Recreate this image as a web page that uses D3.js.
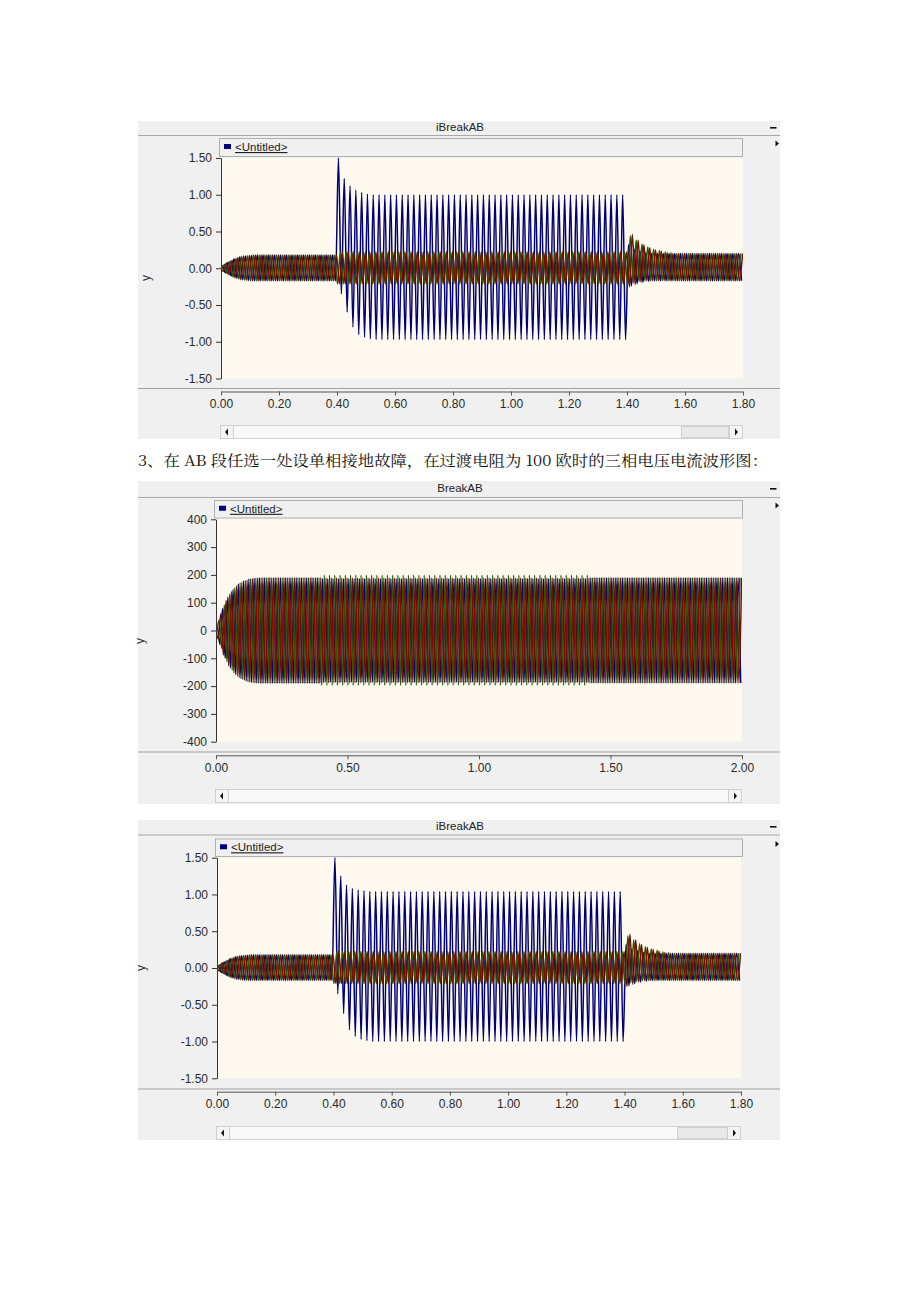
<!DOCTYPE html>
<html><head><meta charset="utf-8">
<script src="https://cdn.jsdelivr.net/npm/d3@7"></script>
<style>html,body{margin:0;padding:0;background:#fff;}svg{display:block;}</style>
</head><body>
<svg id="chart" width="920" height="1302"></svg>
<script>
// ---------- DATA (half-cycle peak values, one value per cycle) ----------
const caption = "3、在 AB 段任选一处设单相接地故障，在过渡电阻为 100 欧时的三相电压电流波形图：";
const legendLabel = "<Untitled>";
const titles = ["iBreakAB", "BreakAB", "iBreakAB"];
const curTicksY = [-1.5, -1, -0.5, 0, 0.5, 1, 1.5];
const curTicksX = [0, 0.2, 0.4, 0.6, 0.8, 1.0, 1.2, 1.4, 1.6, 1.8];
const volTicksY = [-400, -300, -200, -100, 0, 100, 200, 300, 400];
const volTicksX = [0, 0.5, 1.0, 1.5, 2.0];
const halfPeriod = 0.01;           // 50 Hz
const firstPeakTime = [0.005, 0.00167, 0.00833]; // phase A, B, C

// Panel 1 : iBreakAB (kA)
const p1A_pos = [0.03,0.08,0.13,0.155,0.165,0.175,
 0.18,0.18,0.18,0.18,0.18,0.18,0.18,0.18,0.18,0.18,0.18,0.18,0.18,0.18,
 1.50,1.22,1.12,1.06,1.03,1.01,
 1,1,1,1,1,1,1,1,1,1, 1,1,1,1,1,1,1,1,1,1, 1,1,1,1,1,1,1,1,1,1, 1,1,1,1,1,1,1,1,1,1, 1,1,1,1,
 0.32,0.26,0.23,0.21,
 0.2,0.2,0.2,0.2,0.2,0.2,0.2,0.2,0.2,0.2,0.2,0.2,0.2,0.2,0.2,0.2];
const p1A_neg = [-0.06,-0.105,-0.135,-0.155,-0.165,-0.17,
 -0.17,-0.17,-0.17,-0.17,-0.17,-0.17,-0.17,-0.17,-0.17,-0.17,-0.17,-0.17,-0.17,-0.17,
 -0.35,-0.60,-0.80,-0.90,-0.94,-0.96,
 -0.97,-0.97,-0.97,-0.97,-0.97,-0.97,-0.97,-0.97,-0.97,-0.97, -0.97,-0.97,-0.97,-0.97,-0.97,-0.97,-0.97,-0.97,-0.97,-0.97,
 -0.97,-0.97,-0.97,-0.97,-0.97,-0.97,-0.97,-0.97,-0.97,-0.97, -0.97,-0.97,-0.97,-0.97,-0.97,-0.97,-0.97,-0.97,-0.97,-0.97, -0.97,-0.97,-0.97,-0.97,
 -0.24,-0.21,-0.19,-0.18,
 -0.17,-0.17,-0.17,-0.17,-0.17,-0.17,-0.17,-0.17,-0.17,-0.17,-0.17,-0.17,-0.17,-0.17,-0.17,-0.17];
const p1B_neg = [-0.01,-0.075,-0.12,-0.145,-0.16,-0.17,
 -0.17,-0.17,-0.17,-0.17,-0.17,-0.17,-0.17,-0.17,-0.17,-0.17,-0.17,-0.17,-0.17,-0.17,
 -0.21,-0.21,-0.21,-0.21,-0.21,-0.21,-0.21,-0.21,-0.21,-0.21, -0.21,-0.21,-0.21,-0.21,-0.21,-0.21,-0.21,-0.21,-0.21,-0.21,
 -0.21,-0.21,-0.21,-0.21,-0.21,-0.21,-0.21,-0.21,-0.21,-0.21, -0.21,-0.21,-0.21,-0.21,-0.21,-0.21,-0.21,-0.21,-0.21,-0.21,
 -0.21,-0.21,-0.21,-0.21,-0.21,-0.21,-0.21,-0.21,-0.21,-0.21,
 -0.23,-0.20,-0.18,
 -0.17,-0.17,-0.17,-0.17,-0.17,-0.17,-0.17,-0.17,-0.17,-0.17,-0.17,-0.17,-0.17,-0.17,-0.17,-0.17,-0.17];
const p1B_pos = [0.05,0.10,0.135,0.16,0.17,
 0.18,0.18,0.18,0.18,0.18,0.18,0.18,0.18,0.18,0.18,0.18,0.18,0.18,0.18,0.18,
 0.22,0.22,0.22,0.22,0.22,0.22,0.22,0.22,0.22,0.22, 0.22,0.22,0.22,0.22,0.22,0.22,0.22,0.22,0.22,0.22,
 0.22,0.22,0.22,0.22,0.22,0.22,0.22,0.22,0.22,0.22, 0.22,0.22,0.22,0.22,0.22,0.22,0.22,0.22,0.22,0.22,
 0.22,0.22,0.22,0.22,0.22,0.22,0.22,0.22,0.22,0.22,
 0.44,0.38,0.33,0.29,0.26,0.24,0.22,0.21,
 0.2,0.2,0.2,0.2,0.2,0.2,0.2,0.2,0.2,0.2,0.2,0.2];
const p1C_neg = [-0.04,-0.09,-0.13,-0.155,-0.165,
 -0.17,-0.17,-0.17,-0.17,-0.17,-0.17,-0.17,-0.17,-0.17,-0.17,-0.17,-0.17,-0.17,-0.17,-0.17,
 -0.21,-0.21,-0.21,-0.21,-0.21,-0.21,-0.21,-0.21,-0.21,-0.21, -0.21,-0.21,-0.21,-0.21,-0.21,-0.21,-0.21,-0.21,-0.21,-0.21,
 -0.21,-0.21,-0.21,-0.21,-0.21,-0.21,-0.21,-0.21,-0.21,-0.21, -0.21,-0.21,-0.21,-0.21,-0.21,-0.21,-0.21,-0.21,-0.21,-0.21,
 -0.21,-0.21,-0.21,-0.21,-0.21,-0.21,-0.21,-0.21,-0.21,-0.21,
 -0.25,-0.22,-0.19,
 -0.17,-0.17,-0.17,-0.17,-0.17,-0.17,-0.17,-0.17,-0.17,-0.17,-0.17,-0.17,-0.17,-0.17,-0.17,-0.17,-0.17];
const p1C_pos = [0.07,0.11,0.145,0.165,0.175,
 0.18,0.18,0.18,0.18,0.18,0.18,0.18,0.18,0.18,0.18,0.18,0.18,0.18,0.18,0.18,
 0.22,0.22,0.22,0.22,0.22,0.22,0.22,0.22,0.22,0.22, 0.22,0.22,0.22,0.22,0.22,0.22,0.22,0.22,0.22,0.22,
 0.22,0.22,0.22,0.22,0.22,0.22,0.22,0.22,0.22,0.22, 0.22,0.22,0.22,0.22,0.22,0.22,0.22,0.22,0.22,0.22,
 0.22,0.22,0.22,0.22,0.22,0.22,0.22,0.22,0.22,0.22,
 0.46,0.38,0.32,0.28,0.25,0.23,0.21,
 0.2,0.2,0.2,0.2,0.2,0.2,0.2,0.2,0.2,0.2,0.2,0.2,0.2];

// Panel 2 : BreakAB (kV)
const p2A_pos = [15,78,120,148,167,178,185,188,
 190,190,190,190,190,190,190,190,190,190,190,190,
 186,186,186,186,186,186,186,186,186,186, 186,186,186,186,186,186,186,186,186,186,
 186,186,186,186,186,186,186,186,186,186, 186,186,186,186,186,186,186,186,186,186,
 186,186,186,186,186,186,186,186,186,186, 186,
 190,190,190,190,190,190,190,190,190,190, 190,190,190,190,190,190,190,190,190,190, 190,190,190,190,190,190,190,190,190];
const p2A_neg = [-50,-100,-135,-158,-173,-182,-187,-189,
 -190,-190,-190,-190,-190,-190,-190,-190,-190,-190,-190,-190,
 -186,-186,-186,-186,-186,-186,-186,-186,-186,-186, -186,-186,-186,-186,-186,-186,-186,-186,-186,-186,
 -186,-186,-186,-186,-186,-186,-186,-186,-186,-186, -186,-186,-186,-186,-186,-186,-186,-186,-186,-186,
 -186,-186,-186,-186,-186,-186,-186,-186,-186,-186, -186,
 -189,-189,-189,-189,-189,-189,-189,-189,-189,-189, -189,-189,-189,-189,-189,-189,-189,-189,-189,-189, -189,-189,-189,-189,-189,-189,-189,-189,-189];
const p2B_neg = [-5,-65,-112,-143,-163,-176,-184,-188,
 -190,-190,-190,-190,-190,-190,-190,-190,-190,-190,-190,-190,
 -197,-197,-197,-197,-197,-197,-197,-197,-197,-197, -197,-197,-197,-197,-197,-197,-197,-197,-197,-197,
 -197,-197,-197,-197,-197,-197,-197,-197,-197,-197, -197,-197,-197,-197,-197,-197,-197,-197,-197,-197,
 -197,-197,-197,-197,-197,-197,-197,-197,-197,-197, -197,
 -189,-189,-189,-189,-189,-189,-189,-189,-189,-189, -189,-189,-189,-189,-189,-189,-189,-189,-189,-189, -189,-189,-189,-189,-189,-189,-189,-189,-189];
const p2B_pos = [38,92,130,155,171,180,186,189,
 190,190,190,190,190,190,190,190,190,190,190,190,
 199,199,199,199,199,199,199,199,199,199, 199,199,199,199,199,199,199,199,199,199,
 199,199,199,199,199,199,199,199,199,199, 199,199,199,199,199,199,199,199,199,199,
 199,199,199,199,199,199,199,199,199,199, 199,
 190,190,190,190,190,190,190,190,190,190, 190,190,190,190,190,190,190,190,190,190, 190,190,190,190,190,190,190,190,190];
const p2C_neg = [-30,-88,-127,-152,-169,-179,-185,-188,
 -190,-190,-190,-190,-190,-190,-190,-190,-190,-190,-190,-190,
 -188,-188,-188,-188,-188,-188,-188,-188,-188,-188, -188,-188,-188,-188,-188,-188,-188,-188,-188,-188,
 -188,-188,-188,-188,-188,-188,-188,-188,-188,-188, -188,-188,-188,-188,-188,-188,-188,-188,-188,-188,
 -188,-188,-188,-188,-188,-188,-188,-188,-188,-188, -188,
 -189,-189,-189,-189,-189,-189,-189,-189,-189,-189, -189,-189,-189,-189,-189,-189,-189,-189,-189,-189, -189,-189,-189,-189,-189,-189,-189,-189,-189];
const p2C_pos = [60,108,140,160,174,181,186,189,
 190,190,190,190,190,190,190,190,190,190,190,190,
 189,189,189,189,189,189,189,189,189,189, 189,189,189,189,189,189,189,189,189,189,
 189,189,189,189,189,189,189,189,189,189, 189,189,189,189,189,189,189,189,189,189,
 189,189,189,189,189,189,189,189,189,189, 189,
 190,190,190,190,190,190,190,190,190,190, 190,190,190,190,190,190,190,190,190,190, 190,190,190,190,190,190,190,190,190];

// Panel 3 : iBreakAB (kA) - phase A differs; phases B, C as panel 1
const p3A_pos = [0.03,0.08,0.13,0.155,0.165,0.175,
 0.18,0.18,0.18,0.18,0.18,0.18,0.18,0.18,0.18,0.18,0.18,0.18,0.18,0.18,
 1.50,1.25,1.13,1.08,1.06,1.05,
 1.04,1.04,1.04,1.04,1.04,1.04,1.04,1.04,1.04,1.04, 1.04,1.04,1.04,1.04,1.04,1.04,1.04,1.04,1.04,1.04,
 1.04,1.04,1.04,1.04,1.04,1.04,1.04,1.04,1.04,1.04, 1.04,1.04,1.04,1.04,1.04,1.04,1.04,1.04,1.04,1.04, 1.04,1.04,1.04,1.04,
 0.32,0.26,0.23,0.21,
 0.2,0.2,0.2,0.2,0.2,0.2,0.2,0.2,0.2,0.2,0.2,0.2,0.2,0.2,0.2,0.2];
const p3A_neg = [-0.06,-0.105,-0.135,-0.155,-0.165,-0.17,
 -0.17,-0.17,-0.17,-0.17,-0.17,-0.17,-0.17,-0.17,-0.17,-0.17,-0.17,-0.17,-0.17,-0.17,
 -0.35,-0.62,-0.84,-0.93,-0.97,-0.99,
 -1,-1,-1,-1,-1,-1,-1,-1,-1,-1, -1,-1,-1,-1,-1,-1,-1,-1,-1,-1, -1,-1,-1,-1,-1,-1,-1,-1,-1,-1,
 -1,-1,-1,-1,-1,-1,-1,-1,-1,-1, -1,-1,-1,-1,
 -0.24,-0.21,-0.19,-0.18,
 -0.17,-0.17,-0.17,-0.17,-0.17,-0.17,-0.17,-0.17,-0.17,-0.17,-0.17,-0.17,-0.17,-0.17,-0.17,-0.17];

// ---------- LAYOUT ----------
const FONT = '"Liberation Sans", Arial, Helvetica, sans-serif';
const COLORS = ['#000078', '#1e5e00', '#7e0a00'];
const fmt2 = d => d.toFixed(2);
const fmt0 = d => String(d);

const panels = [
  { title: titles[0], top: 121, bottom: 439, titleBase: 131, titleSep: 135.5,
    legend: {x0: 219, x1: 743, y0: 138, y1: 157},
    plot: {x0: 221, x1: 743, y0: 158, y1: 378.5},
    xDomain: [0, 1.8], yDomain: [-1.5, 1.5], xTicks: curTicksX, yTicks: curTicksY, fx: fmt2, fy: fmt2,
    sep: 388.5, axisY: 391.5, scroll: {x0: 220, x1: 743, y0: 425, y1: 438, thumb: [681, 728]}, yLab: [150, 278],
    phases: [[p1A_pos, p1A_neg], [p1B_neg, p1B_pos], [p1C_neg, p1C_pos]] },
  { title: titles[1], top: 481, bottom: 804, titleBase: 492, titleSep: 497.5,
    legend: {x0: 214, x1: 743, y0: 500, y1: 518.5},
    plot: {x0: 216, x1: 742, y0: 519.3, y1: 741.7},
    xDomain: [0, 2], yDomain: [-400, 400], xTicks: volTicksX, yTicks: volTicksY, fx: fmt2, fy: fmt0,
    sep: 752, axisY: 755.3, scroll: {x0: 215, x1: 742, y0: 789, y1: 802, thumb: null}, yLab: [144, 641],
    phases: [[p2A_pos, p2A_neg], [p2B_neg, p2B_pos], [p2C_neg, p2C_pos]] },
  { title: titles[2], top: 820, bottom: 1140, titleBase: 830, titleSep: 835,
    legend: {x0: 215, x1: 743, y0: 838.5, y1: 857},
    plot: {x0: 217, x1: 741, y0: 857.7, y1: 1078.3},
    xDomain: [0, 1.8], yDomain: [-1.5, 1.5], xTicks: curTicksX, yTicks: curTicksY, fx: fmt2, fy: fmt2,
    sep: 1089, axisY: 1091.7, scroll: {x0: 216, x1: 741, y0: 1126, y1: 1139, thumb: [677, 727]}, yLab: [145, 968],
    phases: [[p3A_pos, p3A_neg], [p1B_neg, p1B_pos], [p1C_neg, p1C_pos]] }
];

const svg = d3.select('#chart');

function phasePoints(first, second, t1) {
  const pts = [[0, 0]];
  for (let i = 0; i < first.length; i++) {
    pts.push([t1 + 2 * halfPeriod * i, first[i]]);
    if (i < second.length) pts.push([t1 + halfPeriod + 2 * halfPeriod * i, second[i]]);
  }
  return pts;
}

panels.forEach((P, pi) => {
  const g = svg.append('g');
  const L = 138, R = 780;
  g.append('rect').attr('x', L).attr('y', P.top).attr('width', R - L).attr('height', P.bottom - P.top).attr('fill', '#f0f0f0');
  g.append('line').attr('x1', L).attr('x2', R).attr('y1', P.titleSep).attr('y2', P.titleSep).attr('stroke', '#a8a8a8');
  g.append('text').attr('x', 460).attr('y', P.titleBase).attr('text-anchor', 'middle')
    .attr('font-family', FONT).attr('font-size', 11.5).attr('fill', '#222').text(P.title);
  g.append('rect').attr('x', 770).attr('y', P.titleBase - 4).attr('width', 6.5).attr('height', 1.6).attr('fill', '#111');
  g.append('path').attr('d', `M775.5,${P.legend.y0 + 2.5} l3.5,3 l-3.5,3 z`).attr('fill', '#111');

  // legend bar
  const lg = P.legend;
  g.append('rect').attr('x', lg.x0 + 0.5).attr('y', lg.y0 + 0.5).attr('width', lg.x1 - lg.x0 - 1).attr('height', lg.y1 - lg.y0 - 1)
    .attr('fill', '#f0f0f0').attr('stroke', '#b0b0b0');
  g.append('rect').attr('x', lg.x0 + 5).attr('y', (lg.y0 + lg.y1) / 2 - 3.5).attr('width', 7).attr('height', 5).attr('fill', '#000080');
  g.append('text').attr('x', lg.x0 + 16).attr('y', (lg.y0 + lg.y1) / 2 + 3.5)
    .attr('font-family', FONT).attr('font-size', 11.5).attr('fill', '#222').attr('text-decoration', 'underline').text(legendLabel);

  // plot area
  const pl = P.plot;
  g.append('rect').attr('x', pl.x0).attr('y', pl.y0).attr('width', pl.x1 - pl.x0).attr('height', pl.y1 - pl.y0).attr('fill', '#fdf9ee');
  const x = d3.scaleLinear().domain(P.xDomain).range([pl.x0, pl.x1]);
  const y = d3.scaleLinear().domain(P.yDomain).range([pl.y1, pl.y0]);
  const clipId = 'clip' + pi;
  svg.append('clipPath').attr('id', clipId).append('rect')
    .attr('x', pl.x0).attr('y', pl.y0 - 1).attr('width', pl.x1 - pl.x0).attr('height', pl.y1 - pl.y0 + 2);
  const line = d3.line().x(d => x(d[0])).y(d => y(d[1])).curve(d3.curveMonotoneX);
  const wg = g.append('g').attr('clip-path', `url(#${clipId})`);
  P.phases.forEach((ph, k) => {
    wg.append('path').attr('d', line(phasePoints(ph[0], ph[1], firstPeakTime[k])))
      .attr('fill', 'none').attr('stroke', COLORS[k]).attr('stroke-width', 1.5);
  });

  // y axis
  const ya = g.append('g').attr('transform', `translate(${pl.x0},0)`)
    .call(d3.axisLeft(y).tickValues(P.yTicks).tickFormat(P.fy).tickSize(5).tickSizeOuter(0).tickPadding(4));
  ya.select('.domain').attr('stroke', '#333');
  ya.selectAll('.tick line').attr('stroke', '#333');
  ya.selectAll('text').attr('font-family', FONT).attr('font-size', 12).attr('fill', '#2a2a2a');
  g.append('text').attr('transform', `translate(${P.yLab[0]},${P.yLab[1]}) rotate(-90)`).attr('text-anchor', 'middle')
    .attr('font-family', FONT).attr('font-size', 12).attr('fill', '#333').text('y');

  // bottom separator and x axis
  g.append('line').attr('x1', L).attr('x2', R).attr('y1', P.sep).attr('y2', P.sep).attr('stroke', '#a0a0a0');
  const xa = g.append('g').attr('transform', `translate(0,${P.axisY})`)
    .call(d3.axisBottom(x).tickValues(P.xTicks).tickFormat(P.fx).tickSize(4).tickSizeOuter(0).tickPadding(4));
  xa.select('.domain').attr('stroke', '#555');
  xa.selectAll('.tick line').attr('stroke', '#555');
  xa.selectAll('text').attr('font-family', FONT).attr('font-size', 12).attr('fill', '#2a2a2a');

  // scrollbar
  const s = P.scroll, cy = (s.y0 + s.y1) / 2;
  g.append('rect').attr('x', s.x0 + 0.5).attr('y', s.y0 + 0.5).attr('width', s.x1 - s.x0 - 1).attr('height', s.y1 - s.y0)
    .attr('fill', '#f8f8f8').attr('stroke', '#d2d2d2');
  g.append('rect').attr('x', s.x0 + 0.5).attr('y', s.y0 + 0.5).attr('width', 13).attr('height', s.y1 - s.y0)
    .attr('fill', '#f4f4f4').attr('stroke', '#cfcfcf');
  g.append('rect').attr('x', s.x1 - 13.5).attr('y', s.y0 + 0.5).attr('width', 13).attr('height', s.y1 - s.y0)
    .attr('fill', '#f4f4f4').attr('stroke', '#cfcfcf');
  if (s.thumb) {
    g.append('rect').attr('x', s.thumb[0] + 0.5).attr('y', s.y0 + 1.5).attr('width', s.thumb[1] - s.thumb[0]).attr('height', s.y1 - s.y0 - 2)
      .attr('fill', '#e9e9e9').attr('stroke', '#d0d0d0');
  }
  g.append('path').attr('d', `M${s.x0 + 8},${cy - 3} l-3,3.5 l3,3.5 z`).attr('fill', '#111');
  g.append('path').attr('d', `M${s.x1 - 8},${cy - 3} l3,3.5 l-3,3.5 z`).attr('fill', '#111');
});

// caption
svg.append('text').attr('x', 138).attr('y', 466)
  .attr('font-family', '"Noto Serif CJK SC", "Noto Sans CJK SC", serif').attr('font-size', 15)
  .attr('textLength', 630).attr('lengthAdjust', 'spacingAndGlyphs').attr('fill', '#111').text(caption);
</script>
</body></html>
